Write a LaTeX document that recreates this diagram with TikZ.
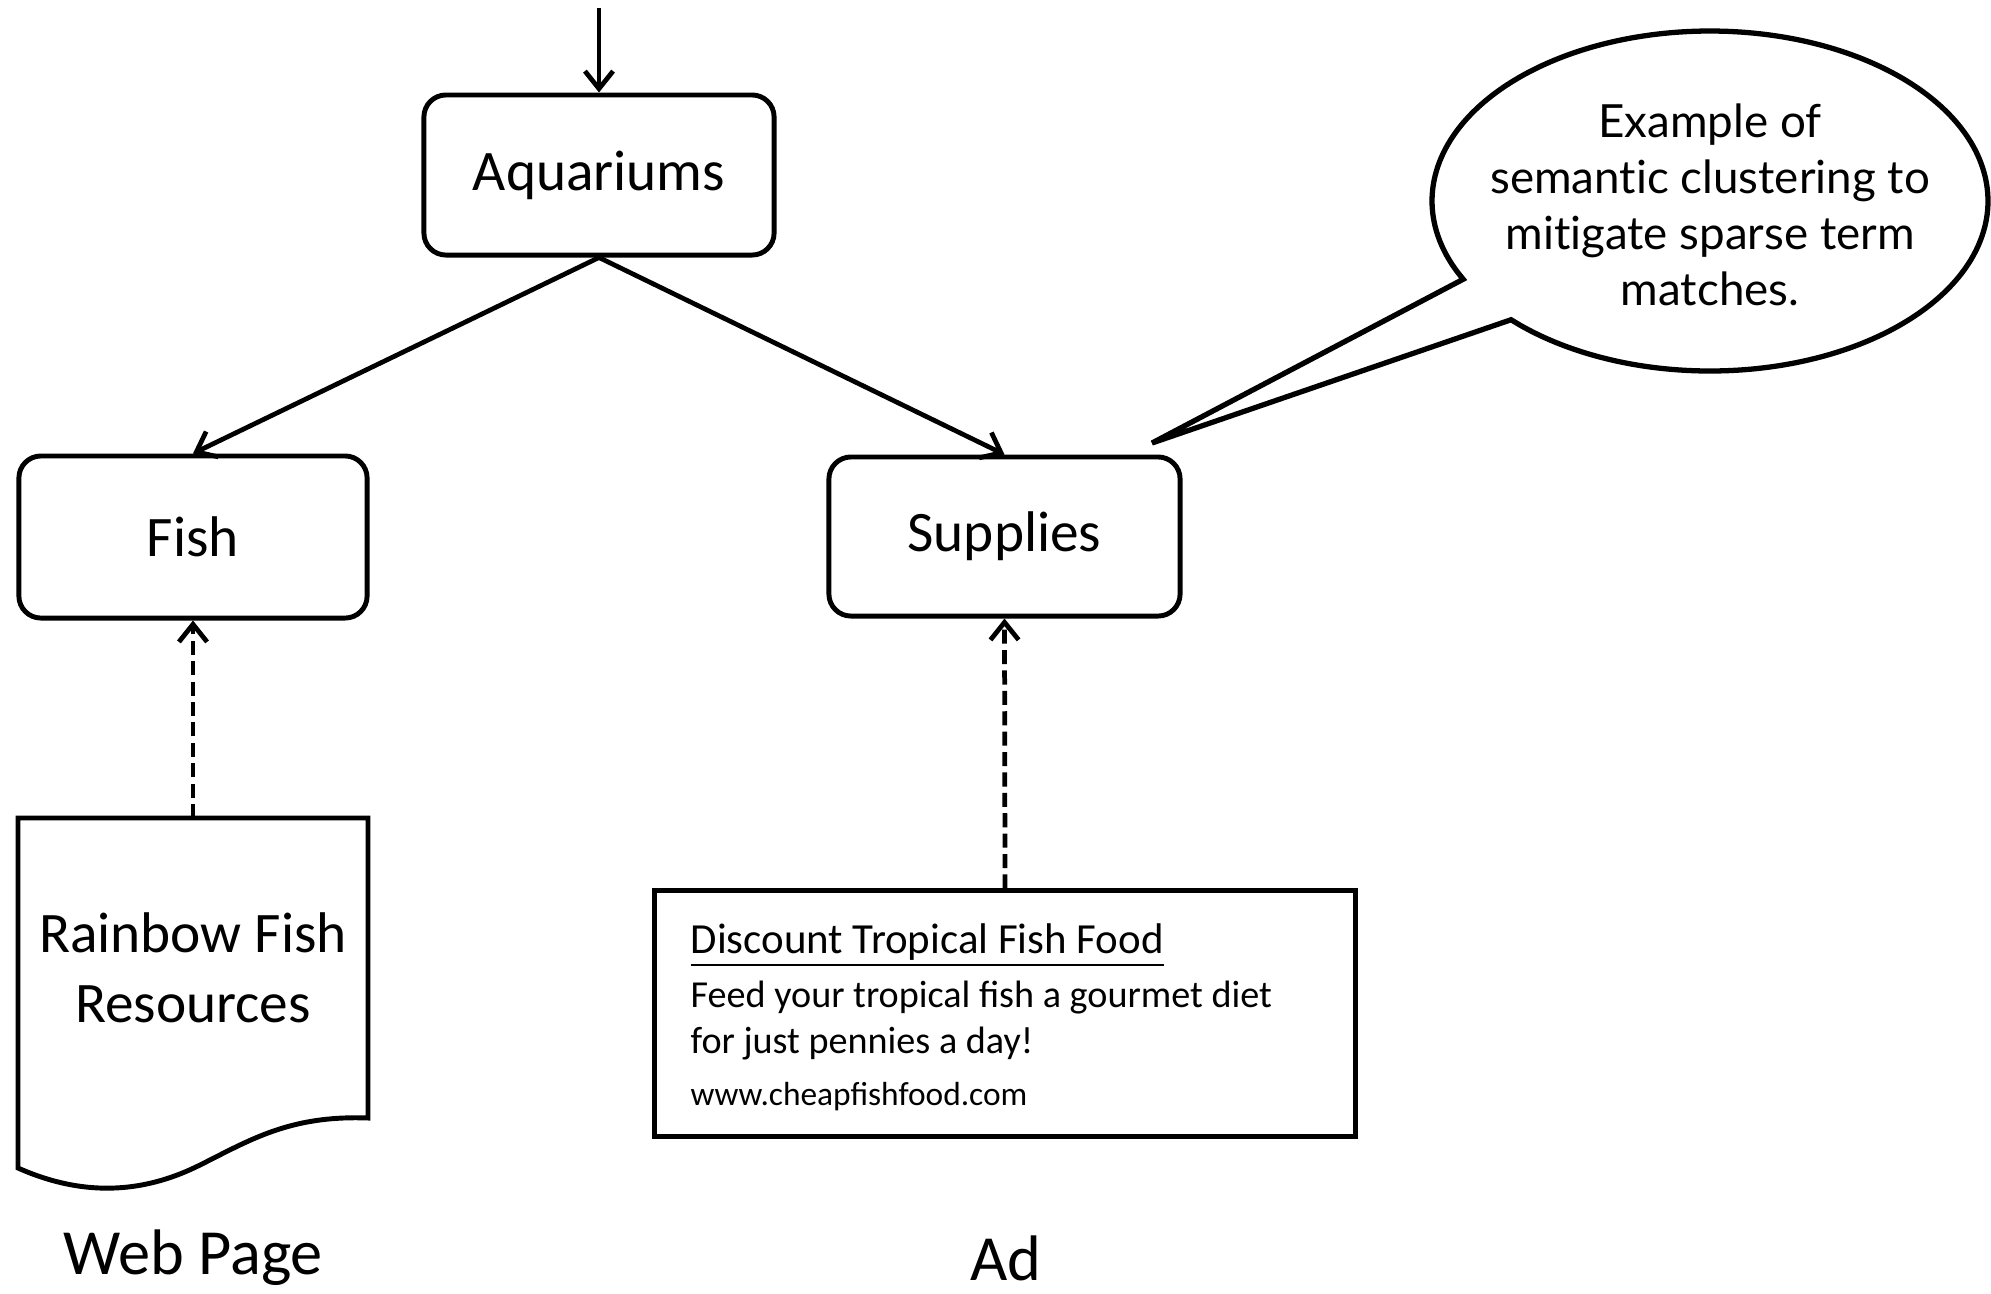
\documentclass[tikz,border=0pt]{standalone}
\usepackage{fontspec}
\setmainfont{Carlito}
\newfontfamily\gillfont[Ligatures=NoCommon]{Lato}
\usetikzlibrary{arrows.meta}
\tikzset{
  catbox/.style={draw, line width=1.4pt, rounded corners=0.22cm, minimum width=3.5cm, minimum height=1.6cm, font=\fontsize{16.3}{19.9}\selectfont, inner sep=0pt},
  conn/.style={line width=1.35pt, -{Straight Barb[length=5pt,width=8pt]}},
  dconn/.style={conn, dash pattern=on 4pt off 1.8pt},
  caption/.style={font=\fontsize{18.3}{22}\selectfont, inner sep=0pt},
  adline/.style={anchor=base west, inner sep=0pt},
}
\begin{document}
\begin{tikzpicture}[x=0.01cm, y=-0.01cm]
\path[use as bounding box] (0,0) rectangle (1991,1293);

% category nodes
\node[catbox] (aq) at (599,175) {Aquariums};
\node[catbox, minimum width=3.48cm, minimum height=1.62cm] (fish) at (193,537) {Fish};
\node[catbox, minimum width=3.51cm, minimum height=1.59cm] (supp) at (1004.5,536.5) {Supplies};

\coordinate (topin) at (599,8);
\draw[conn] (topin) -- (aq.north);
\draw[conn] (aq.south) -- (fish.north);
\draw[conn] (aq.south) -- (supp.north);

% web page document
\coordinate (webtop) at (193,818);
\draw[line width=1.4pt, line join=miter]
  (18,818) -- (368,818) -- (368,1118)
  .. controls (290,1115) and (250,1140) .. (200,1165)
  .. controls (150,1190) and (90,1200) .. (18,1168) -- cycle;
\node[font=\fontsize{16.3}{19.9}\selectfont, align=center, inner sep=0pt] (webtxt) at (193,968) {Rainbow Fish\\Resources};
\node[caption] (weblbl) at (193,1258) {Web Page};
\draw[dconn] (webtop) -- (fish.south);

% ad box
\node[draw, line width=1.4pt, minimum width=7cm, minimum height=2.45cm, inner sep=0pt] (ad) at (1005,1013.5) {};
\node[adline, font=\fontsize{12.2}{14}\selectfont] (adtitle) at (690,953) {\underline{Discount Tropical Fish Food}};
\node[adline, font=\fontsize{10.85}{13}\selectfont] (adbody1) at (690,1007) {Feed your tropical fish a gourmet diet};
\node[adline, font=\fontsize{10.85}{13}\selectfont] (adbody2) at (690,1053) {for just pennies a day!};
\node[adline, font=\fontsize{9.5}{11}\selectfont] (adurl) at (690,1105) {www.cheapfishfood.com};
\node[caption] (adlbl) at (1006,1258) {Ad};
\draw[dconn] (ad.north) -- (supp.south);

% callout
\coordinate (tip) at (1152,443);
\draw[line width=1.5pt, line join=miter]
  plot[domain=152.6:495.7, samples=120, smooth] ({1710+278*cos(\x)},{201+170*sin(\x)})
  -- (tip) -- cycle;
\node[font=\gillfont\fontsize{13}{15.9}\selectfont, align=center, inner sep=0pt] (note) at (1710,205)
  {Example of\\semantic clustering to\\mitigate sparse term\\matches.};
\end{tikzpicture}
\end{document}
